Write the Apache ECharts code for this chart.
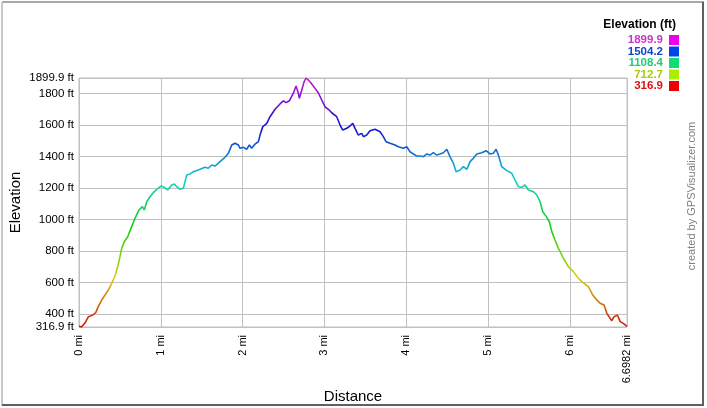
<!DOCTYPE html>
<html>
<head>
<meta charset="utf-8">
<script src="https://cdn.jsdelivr.net/npm/echarts@6/dist/echarts.min.js"></script>
<style>
html,body{margin:0;padding:0;background:#fff;}
#c{width:707px;height:408px;}
</style>
</head>
<body>
<div id="c"></div>
<script>
// ---- data ----
const distanceMi = [0,0.03,0.073,0.114,0.163,0.204,0.236,0.278,0.318,0.358,0.40,0.44,0.473,0.501,0.522,0.554,0.595,0.644,0.685,0.733,0.774,0.798,0.828,0.868,0.908,0.95,1.002,1.043,1.084,1.133,1.165,1.194,1.235,1.275,1.317,1.357,1.397,1.458,
1.479,1.54,1.581,1.622,1.663,1.724,1.785,1.825,1.867,1.907,1.947,1.968,2.009,2.05,2.082,2.111,2.152,2.192,2.213,2.246,2.295,2.335,2.396,2.457,2.498,2.531,2.571,2.588,2.62,2.653,2.681,2.693,2.723,2.751,2.775,2.803,2.833,2.885,2.925,2.967,3.007,3.048,3.089,3.109,3.15,3.191,
3.224,3.273,3.313,3.346,3.374,3.414,3.456,3.476,3.517,3.557,3.619,3.68,3.72,3.753,3.802,3.863,3.903,3.965,4.006,4.046,4.087,4.128,4.169,4.209,4.251,4.291,4.331,4.373,4.413,4.454,4.495,4.535,4.576,4.609,4.658,4.698,4.74,4.78,4.82,4.862,4.923,4.976,5.024,5.065,5.098,5.126,5.167,5.229,5.29,5.33,5.37,5.412,5.452,5.493,5.554,5.596,5.636,5.669,5.718,5.749,5.779,5.819,5.86,5.921,5.982,6.043,6.104,6.146,6.186,6.226,6.28,6.329,6.369,6.418,6.451,6.512,6.54,6.581,6.614,6.654,6.6982];
const elevationFt = [322,316.9,342,382,391,408,446,489,520,552,595,641,700,764,817,859,891,955,1008,1061,1082,1061,1113,1145,1171,1192,1213,1205,1188,1220,1226,1209,1192,1199,1283,1290,1304,1315,
1319,1332,1326,1347,1340,1368,1396,1421,1474,1485,1474,1453,1459,1447,1474,1453,1480,1495,1537,1590,1612,1654,1701,1735,1755,1743,1755,1743,1803,1849,1803,1771,1823,1876,1899.9,1887,1870,1834,1806,1760,1717,1701,1679,1686,1654,1601,
1569,1580,1595,1612,1580,1537,1548,1527,1537,1565,1574,1558,1527,1495,1485,1474,1463,1453,1463,1431,1417,1404,1404,1400,1417,1410,1425,1410,1417,1425,1447,1400,1358,1304,1315,1337,1319,1368,1389,1417,1425,1438,1417,1421,1447,1410,1336,1311,1294,1251,1209,1205,1220,1188,1177,1156,1113,1050,1014,986,923,870,817,754,700,669,627,605,590,573,520,489,468,457,404,357,382,393,351,340,320];
const yTickValues = [316.9,400,600,800,1000,1200,1400,1600,1800,1899.9];
const xTickValues = [0,1,2,3,4,5,6,6.6982];
const legendValues = [1899.9,1504.2,1108.4,712.7,316.9];
const legendSwatch = ['#ee00ee','#0044ee','#11dd77','#aaee00','#ee0000'];
const legendText = ['#cc33cc','#1144cc','#22cc77','#aacc00','#dd1111'];
const elevMin = 316.9, elevMax = 1899.9, distMax = 6.6982;

const FONT = "'Liberation Sans', Arial, sans-serif";
const chart = echarts.init(document.getElementById('c'), null, {renderer:'canvas'});

const graphics = [
  // outer bevel frame
  {type:'line', shape:{x1:2,y1:2,x2:704,y2:2}, style:{stroke:'#a8a8a8',lineWidth:2}},
  {type:'line', shape:{x1:2,y1:2,x2:2,y2:406}, style:{stroke:'#c8c8c8',lineWidth:2}},
  {type:'line', shape:{x1:703,y1:2,x2:703,y2:406}, style:{stroke:'#606060',lineWidth:2}},
  {type:'line', shape:{x1:2,y1:405,x2:704,y2:405}, style:{stroke:'#606060',lineWidth:2}},
  {type:'text', x:676, y:25, style:{text:'Elevation (ft)', font:'bold 12px '+FONT, fill:'#000', align:'right', verticalAlign:'middle'}},
  {type:'text', x:692, y:196, rotation:Math.PI/2, style:{text:'created by GPSVisualizer.com', font:'11px '+FONT, fill:'#808080', align:'center', verticalAlign:'middle'}}
];
legendValues.forEach((v,i)=>{
  const cy = 40 + i*11.5;
  graphics.push({type:'text', x:663, y:cy, style:{text:v.toFixed(1), font:'bold 11.5px '+FONT, fill:legendText[i], align:'right', verticalAlign:'middle'}});
  graphics.push({type:'rect', shape:{x:669, y:cy-5, width:10, height:10}, style:{fill:legendSwatch[i]}});
});

chart.setOption({
  animation:false,
  backgroundColor:'#fff',
  grid:{left:79,right:80,top:78,bottom:81,containLabel:false,outerBoundsMode:'none',show:true,borderColor:'#c0c0c0',borderWidth:1,backgroundColor:'#fff'},
  xAxis:{
    type:'value', min:0, max:distMax,
    name:'Distance', nameLocation:'middle', nameGap:62, nameMoveOverlap:false,
    nameTextStyle:{fontFamily:FONT,fontSize:15,color:'#000'},
    axisLine:{show:false}, axisTick:{show:false, customValues:xTickValues},
    axisLabel:{customValues:xTickValues, rotate:90, margin:8, fontFamily:FONT, fontSize:11, color:'#000',
      formatter:v=>v+' mi'},
    splitLine:{show:true, lineStyle:{color:'#c0c0c0',width:1}}
  },
  yAxis:{
    type:'value', min:elevMin, max:elevMax,
    name:'Elevation', nameLocation:'middle', nameGap:56, nameRotate:90, nameMoveOverlap:false,
    nameTextStyle:{fontFamily:FONT,fontSize:15,color:'#000'},
    axisLine:{show:false}, axisTick:{show:false, customValues:yTickValues},
    axisLabel:{customValues:yTickValues, margin:5, fontFamily:FONT, fontSize:11.5, color:'#000',
      formatter:v=>(Math.round(v)===v? v : v.toFixed(1))+' ft'},
    splitLine:{show:true, lineStyle:{color:'#c0c0c0',width:1}}
  },
  visualMap:{
    type:'continuous', show:false, seriesIndex:0, dimension:1, min:elevMin, max:elevMax,
    inRange:{color:['#d11111','#d17111','#d1d111','#71d111','#11d111','#11d171','#11d1d1','#1171d1','#1111d1','#7111d1','#d111d1']}
  },
  series:[{
    type:'line', showSymbol:false, symbol:'none',
    lineStyle:{width:1.6},
    data: distanceMi.map((d,i)=>[d, elevationFt[i]])
  }],
  graphic: graphics
});
</script>
</body>
</html>
